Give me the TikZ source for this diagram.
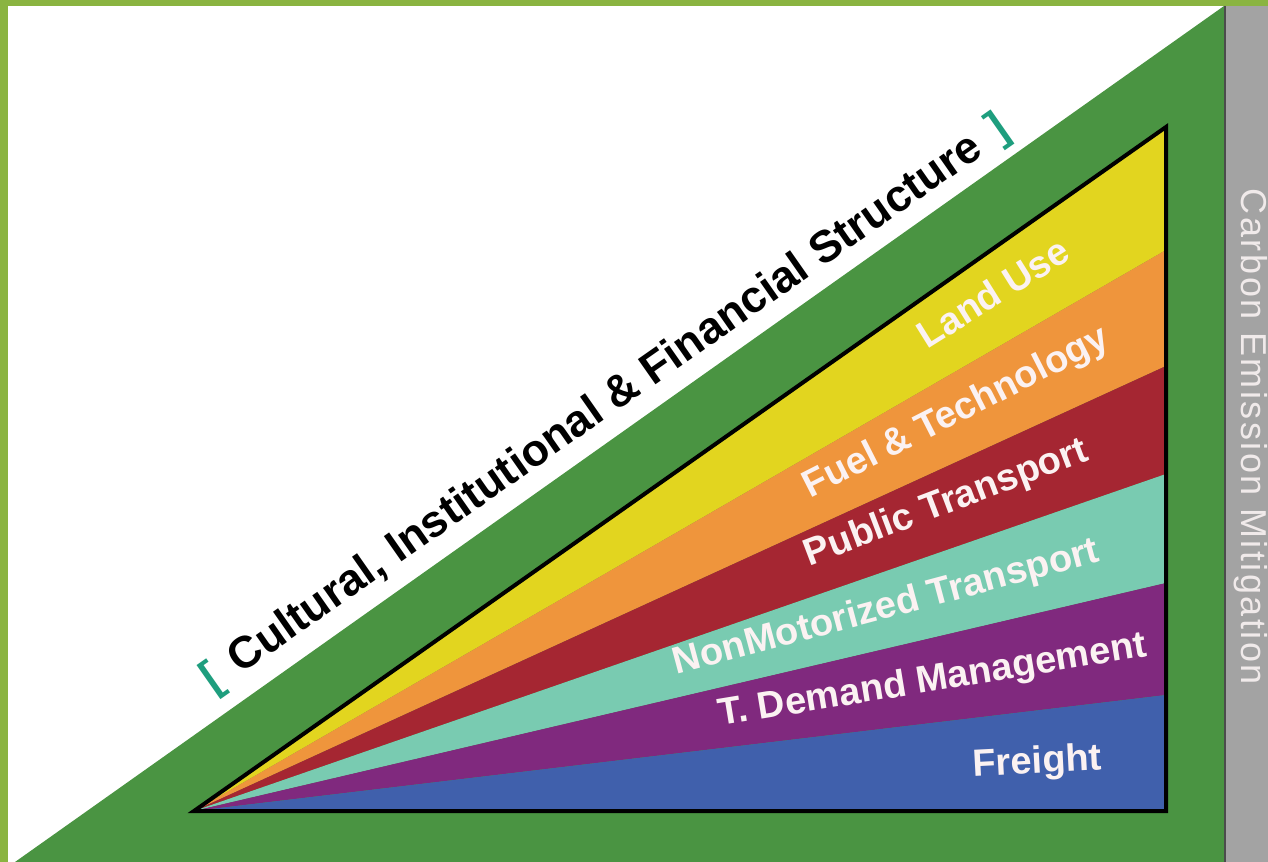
\documentclass[tikz,border=0pt]{standalone}
\usepackage{fontspec}
\setmainfont{Liberation Sans}
\definecolor{framegreen}{HTML}{8AB441}
\definecolor{darkgreen}{HTML}{4A9442}
\definecolor{barGray}{HTML}{A3A3A3}
\definecolor{wyellow}{HTML}{E2D51F}
\definecolor{worange}{HTML}{EF953C}
\definecolor{wred}{HTML}{A52632}
\definecolor{wteal}{HTML}{79CBB1}
\definecolor{wpurple}{HTML}{80297E}
\definecolor{wblue}{HTML}{4060AC}
\definecolor{brk}{HTML}{1E9E7E}
\definecolor{labelwhite}{HTML}{FBF2F2}
\definecolor{bartext}{HTML}{F0EAEA}
\begin{document}
\begin{tikzpicture}[x=0.75pt,y=-0.75pt,
  band/.style={font=\bfseries\fontsize{28.5}{30}\selectfont, text=labelwhite, inner sep=0pt, anchor=base},
  titlestyle/.style={font=\bfseries\fontsize{33.5}{35}\selectfont, text=black, inner sep=0pt, anchor=center, rotate=35},
  barstyle/.style={font=\fontsize{27}{29}\selectfont\addfontfeature{LetterSpace=7}, text=bartext, inner sep=0pt, anchor=base, rotate=-90}
  ]
\useasboundingbox (0,0) rectangle (1268,862);
% frame and background
\fill[framegreen] (0,0) rectangle (1268,862);
\fill[white] (8,6) rectangle (1268,862);
\fill[darkgreen] (15,862) -- (1224,6) -- (1224,862) -- cycle;
\fill[barGray] (1225,6) rectangle (1268,862);
\draw[line width=0.8pt, black!70] (1225,6) -- (1225,862);
% wedges
\coordinate (apex) at (194,811);
\coordinate (p0) at (1166,127);
\coordinate (p1) at (1166,250);
\coordinate (p2) at (1166,366);
\coordinate (p3) at (1166,474);
\coordinate (p4) at (1166,583);
\coordinate (p5) at (1166,695);
\coordinate (p6) at (1166,811);
\fill[wyellow] (apex) -- (p0) -- (p1) -- cycle;
\fill[worange] (apex) -- (p1) -- (p2) -- cycle;
\fill[wred] (apex) -- (p2) -- (p3) -- cycle;
\fill[wteal] (apex) -- (p3) -- (p4) -- cycle;
\fill[wpurple] (apex) -- (p4) -- (p5) -- cycle;
\fill[wblue] (apex) -- (p5) -- (p6) -- cycle;
\draw[line width=3pt, line join=miter] (apex) -- (p0) -- (p6) -- cycle;
% labels
\node[band, rotate=32] (landuse) at (1000,304) {Land Use};
\node[band, rotate=27] (fuel) at (961,422) {Fuel \& Technology};
\node[band, rotate=20.8] (public) at (950,513) {Public Transport};
\node[band, rotate=15] (nonmot) at (889,618) {NonMotorized Transport};
\node[band, rotate=9.3] (tdm) at (934,691) {T. Demand Management};
\node[band, rotate=3] (freight) at (1038,773) {Freight};
% title
\node[titlestyle] (title) at (606,405) {{\color{brk}[}\hspace{0.4em}Cultural, Institutional \& Financial Structure\hspace{0.4em}{\color{brk}]}};
% side bar text
\node[barstyle] (bar) at (1241,437) {Carbon Emission Mitigation};
\end{tikzpicture}
\end{document}
